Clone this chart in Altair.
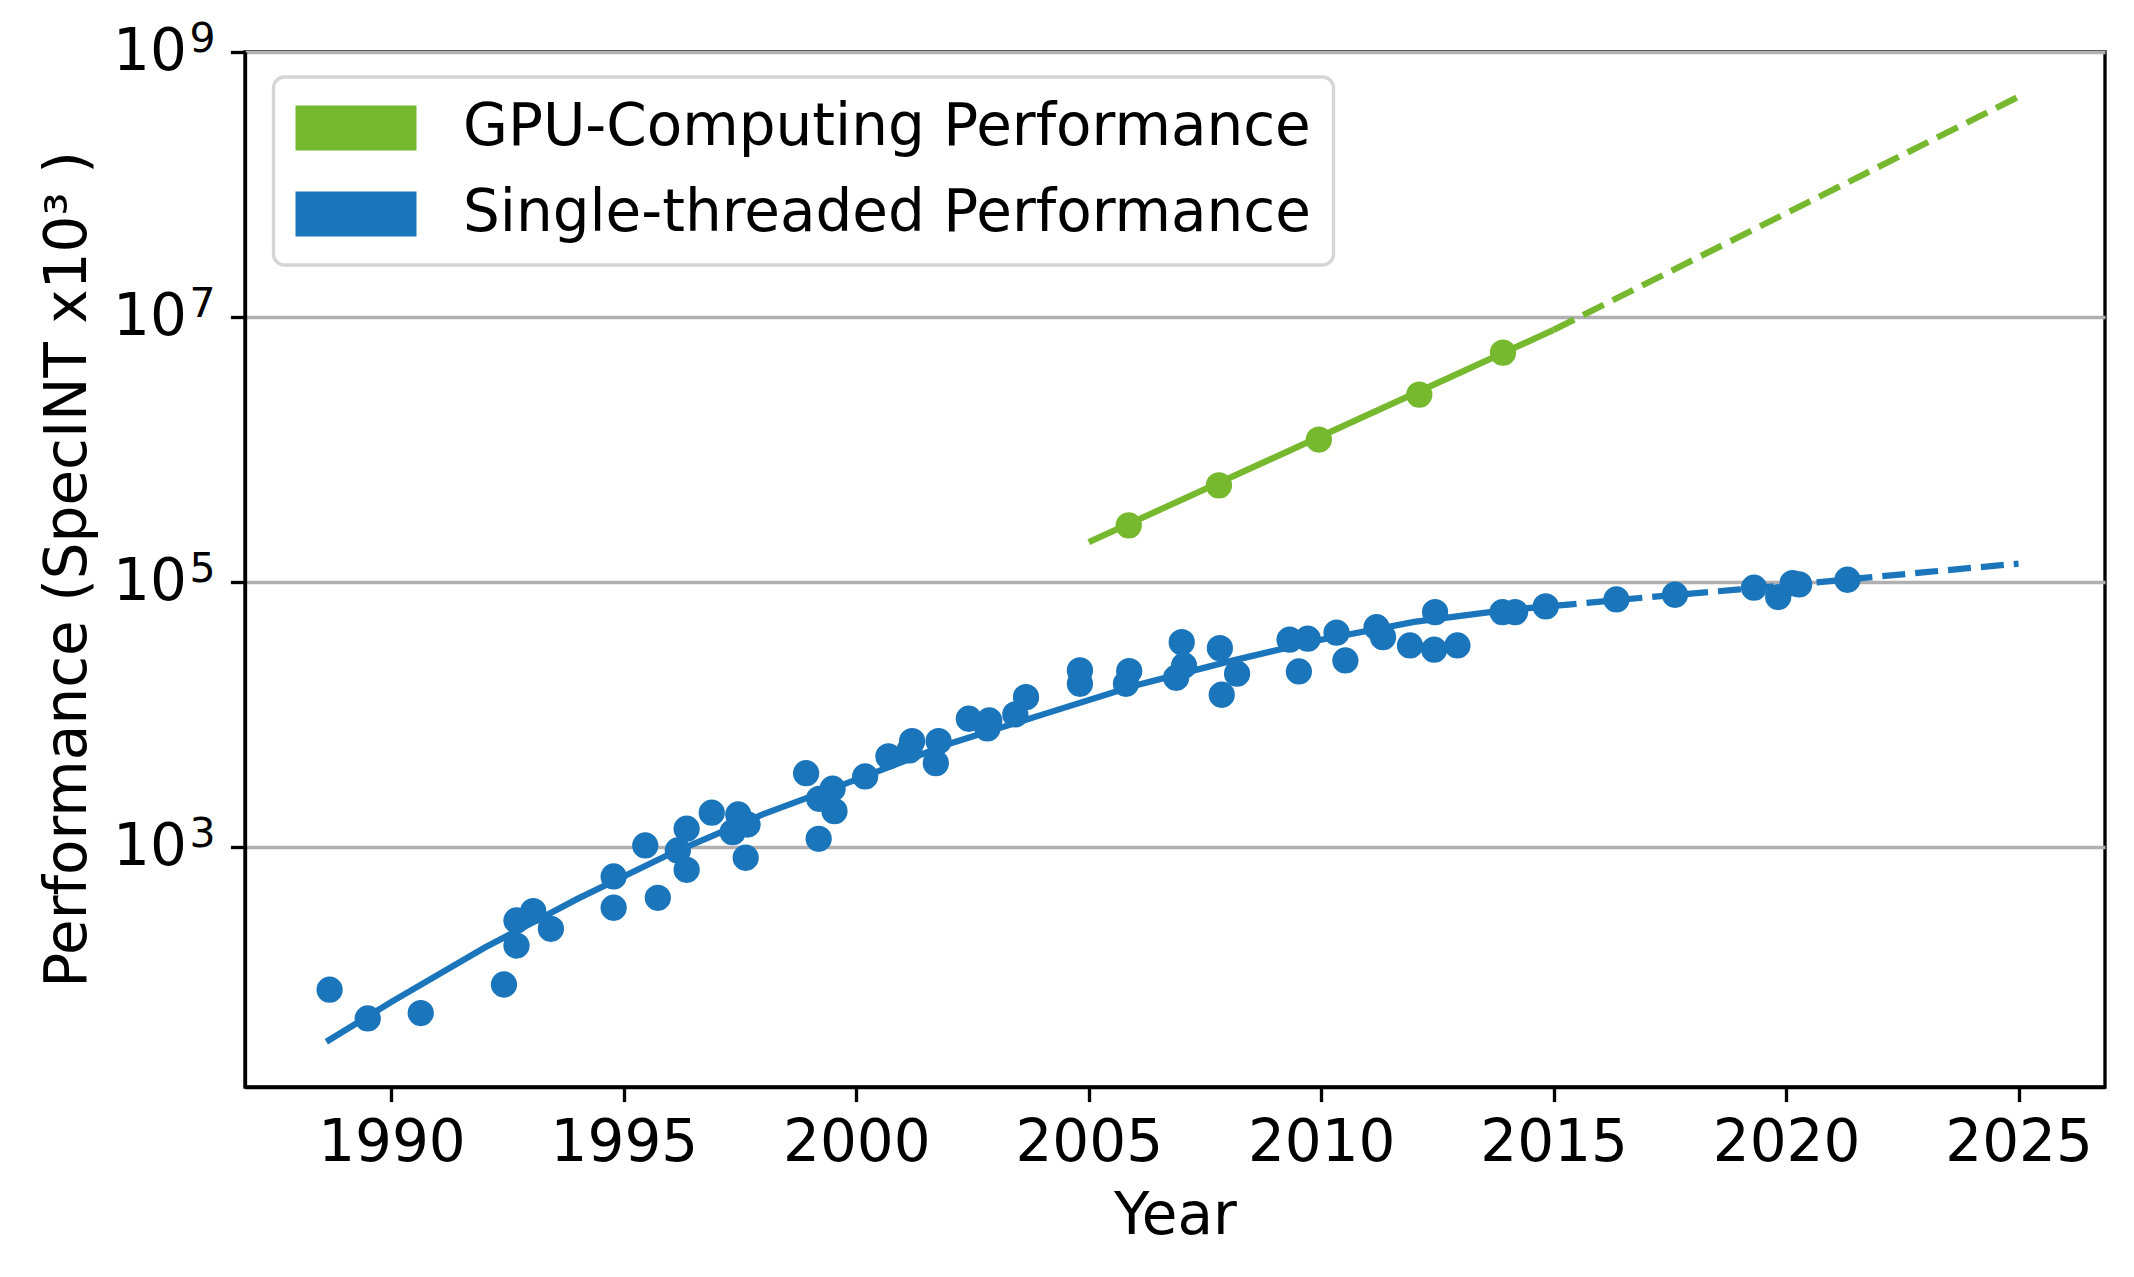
import altair as alt
import pandas as pd

# ---------------- data ----------------
series_names = ["GPU-Computing Performance", "Single-threaded Performance"]
series_colors = ["#76b82e", "#1a75bb"]

st_year = [1988.67, 1989.49, 1990.63, 1992.42, 1992.69, 1992.69, 1993.05, 1993.43,
           1994.78, 1994.78, 1995.46, 1995.73, 1996.16, 1996.35, 1996.35, 1996.89,
           1997.46, 1997.34, 1997.66, 1997.62, 1998.92, 1999.19, 1999.20, 1999.49,
           1999.53, 2000.19, 2000.69, 2001.20, 2001.14, 2001.77, 2001.71, 2002.42,
           2002.86, 2002.82, 2003.42, 2003.65, 2004.81, 2004.81, 2005.87, 2005.80,
           2006.88, 2007.00, 2007.05, 2007.82, 2008.19, 2007.86, 2009.32, 2009.71,
           2009.52, 2010.33, 2010.52, 2011.19, 2011.33, 2011.91, 2012.43, 2012.93,
           2012.45, 2013.90, 2014.17, 2014.83, 2016.35, 2017.61, 2019.31, 2019.83,
           2020.14, 2020.28, 2021.32]
st_perf = [84, 51, 56, 92, 181, 280, 329, 242,
           601, 349, 1030, 415, 944, 1377, 675, 1820,
           1765, 1298, 1483, 832, 3614, 1157, 2317, 2759,
           1870, 3418, 4840, 6310, 5370, 6310, 4305, 9310,
           9040, 7870, 10040, 13550, 21570, 17100, 21300, 17100,
           18980, 35250, 23500, 31770, 20370, 14130, 36750, 37400,
           21180, 41500, 25650, 45700, 38450, 33270, 30900, 33270,
           59400, 59400, 59400, 65600, 74000, 80300, 90800, 77100,
           98200, 96100, 104200]

gpu_year = [2005.86, 2007.80, 2009.95, 2012.11, 2013.91]
gpu_perf = [268000, 537000, 1190000, 2600000, 5390000]

st_fit_year = [1988.6, 1990, 1992, 1994, 1996, 1998, 2000, 2002, 2004, 2006,
               2008, 2010, 2012, 2014, 2015]
st_fit_perf = [34, 68, 174, 407, 891, 1778, 3236, 6026, 10000, 16600,
               25120, 36730, 50120, 61660, 66070]
st_proj_year = [2015, 2017, 2019, 2021, 2023, 2025]
st_proj_perf = [66070, 76740, 88100, 102300, 118900, 138000]

gpu_fit_year = [2005, 2015]
gpu_fit_perf = [200000, 8000000]
gpu_proj_year = [2015, 2025]
gpu_proj_perf = [8000000, 460000000]

ytick_values = [1e3, 1e5, 1e7, 1e9]
ytick_exponents = ["3", "5", "7", "9"]
xtick_values = [1990, 1995, 2000, 2005, 2010, 2015, 2020, 2025]

# ---------------- chart ----------------
FONT = "DejaVu Sans"
FS = 58
LW = 3.33

xs = alt.Scale(domain=[1986.85, 2026.86], nice=False, zero=False)
ys = alt.Scale(type="log", domain=[15.5, 1e9], nice=False)

x_axis = alt.Axis(values=xtick_values, format="d", labelFont=FONT, labelFontSize=FS,
                  labelColor="black", tickSize=14.6, tickWidth=LW, tickColor="black",
                  domainColor="black", domainWidth=LW, grid=False, labelPadding=13,
                  labelFlush=False, labelOverlap=False,
                  title="Year", titleFont=FONT, titleFontSize=FS, titleFontWeight="normal",
                  titleColor="black", titleX=930, titleY=146, titleBaseline="alphabetic",
                  titleAlign="center")
y_axis = alt.Axis(values=ytick_values, labelExpr="'10'", labelFont=FONT, labelFontSize=FS,
                  labelColor="black", labelAlign="right", labelBaseline="middle",
                  tickSize=14.6, tickWidth=LW, tickColor="black",
                  domainColor="black", domainWidth=LW, grid=True, gridColor="#b0b0b0",
                  gridWidth=LW, labelPadding=44, labelOverlap=False, labelFlush=False,
                  title="Performance (SpecINT x10³ )", titleFont=FONT, titleFontSize=FS,
                  titleFontWeight="normal", titleColor="black", titleAngle=-90,
                  titleX=-160, titleY=517, titleBaseline="alphabetic", titleAlign="center")

X = alt.X("year:Q", scale=xs, axis=x_axis)
Y = alt.Y("perf:Q", scale=ys, axis=y_axis)


def line_layer(years, perfs, color, dashed):
    df = pd.DataFrame({"year": years, "perf": perfs})
    kw = dict(color=color, strokeWidth=6.25, strokeCap="butt", clip=False)
    if dashed:
        kw["strokeDash"] = [23, 10]
    return alt.Chart(df).mark_line(**kw).encode(x=X, y=Y)


points_df = pd.DataFrame({
    "year": gpu_year + st_year,
    "perf": gpu_perf + st_perf,
    "series": [series_names[0]] * len(gpu_year) + [series_names[1]] * len(st_year),
})

# legend patch: 121 x 45 px rectangle; symbol scale r = sqrt(3364)/2 = 29
legend = alt.Legend(orient="none", legendX=28.5, legendY=25, title=None,
                    labelFont=FONT, labelFontSize=FS, labelColor="black", labelLimit=2000,
                    symbolType="M-2.086,-0.776L2.086,-0.776L2.086,0.776L-2.086,0.776Z",
                    symbolSize=3364, symbolOffset=31.5,
                    symbolStrokeWidth=0, symbolOpacity=1, labelOffset=78,
                    padding=22, rowPadding=28, strokeColor="#d5d5d5", fillColor="white",
                    cornerRadius=11)

points = alt.Chart(points_df).mark_circle(size=690, opacity=1).encode(
    x=X, y=Y,
    color=alt.Color("series:N", scale=alt.Scale(domain=series_names, range=series_colors),
                    legend=legend),
)

exp_df = pd.DataFrame({"perf": ytick_values, "exp": ytick_exponents})
exponents = alt.Chart(exp_df).mark_text(align="right", baseline="alphabetic", fontSize=41,
                                         font=FONT, color="black").encode(
    x=alt.value(-29.5), y=Y, text="exp:N")

chart = alt.layer(
    line_layer(st_fit_year, st_fit_perf, series_colors[1], False),
    line_layer(st_proj_year, st_proj_perf, series_colors[1], True),
    line_layer(gpu_fit_year, gpu_fit_perf, series_colors[0], False),
    line_layer(gpu_proj_year, gpu_proj_perf, series_colors[0], True),
    points,
    exponents,
).properties(
    width=1860, height=1035,
    padding={"left": 245, "top": 52, "right": 29, "bottom": 190},
    autosize=alt.AutoSizeParams(type="none"),
    background="white",
).configure(font=FONT).configure_view(
    stroke="black", strokeWidth=LW
).configure_legend(strokeWidth=LW)

chart.save("out.html", embed_options={"renderer": "svg", "actions": False})
